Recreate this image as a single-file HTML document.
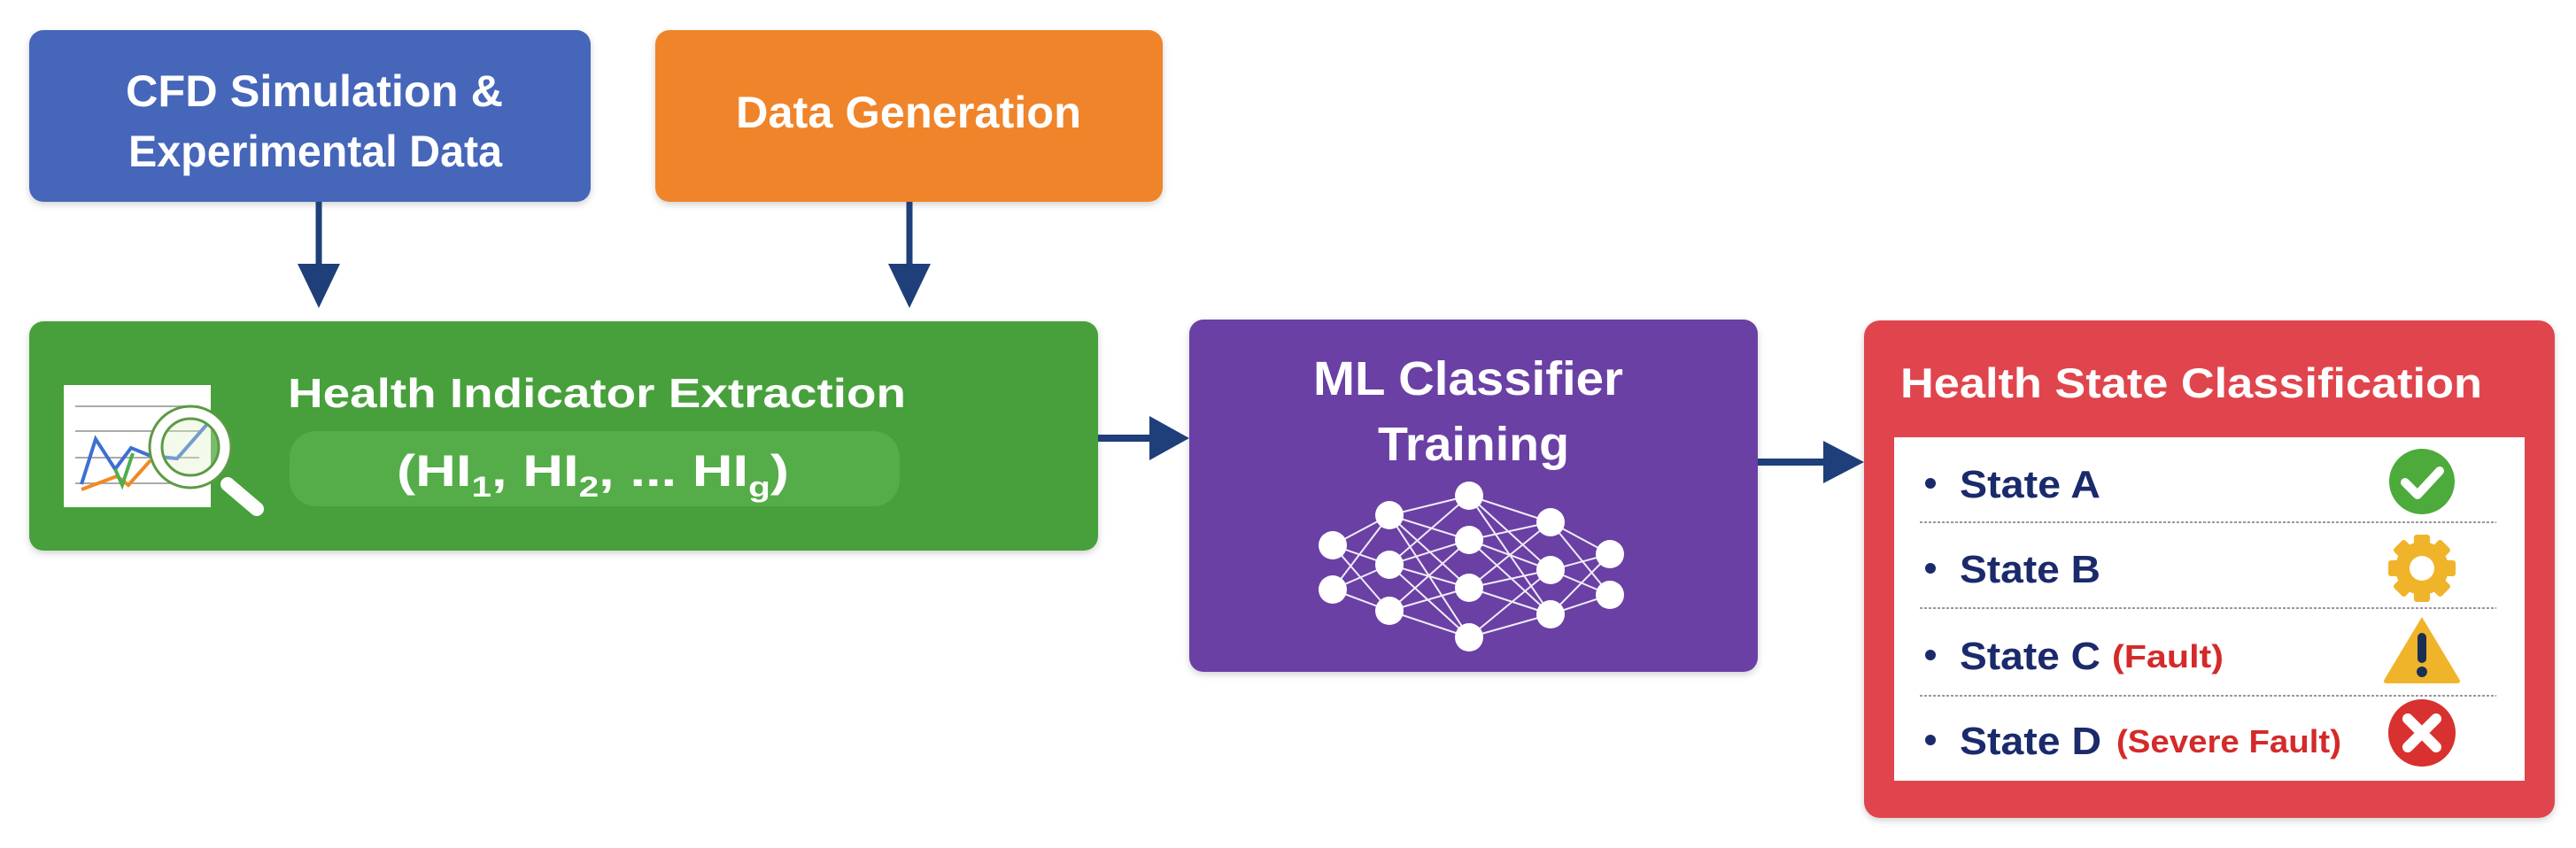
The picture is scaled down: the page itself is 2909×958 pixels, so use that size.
<!DOCTYPE html>
<html><head><meta charset="utf-8"><style>
html,body{margin:0;padding:0;background:#fff;}
svg{display:block;}
text{font-family:"Liberation Sans",sans-serif;font-weight:bold;}
</style></head><body>
<svg width="2909" height="958" viewBox="0 0 2909 958" xmlns="http://www.w3.org/2000/svg">
<defs>
<filter id="sh" x="-5%" y="-5%" width="110%" height="115%"><feDropShadow dx="0" dy="3" stdDeviation="4" flood-color="#000" flood-opacity="0.18"/></filter>
</defs>
<!-- Blue box -->
<rect x="33" y="34" width="634" height="194" rx="16" fill="#4566b9" filter="url(#sh)"/>
<text x="355" y="120" fill="#fff" font-size="50" text-anchor="middle" textLength="426" lengthAdjust="spacingAndGlyphs">CFD Simulation &amp;</text>
<text x="356" y="188" fill="#fff" font-size="50" text-anchor="middle" textLength="422" lengthAdjust="spacingAndGlyphs">Experimental Data</text>
<!-- Orange box -->
<rect x="740" y="34" width="573" height="194" rx="16" fill="#f0842b" filter="url(#sh)"/>
<text x="1026" y="144" fill="#fff" font-size="50" text-anchor="middle" textLength="390" lengthAdjust="spacingAndGlyphs">Data Generation</text>
<!-- down arrows -->
<g fill="#1f3f7a" stroke="#1f3f7a">
<line x1="360" y1="228" x2="360" y2="305" stroke-width="7"/>
<polygon points="336,298 384,298 360,348" stroke="none"/>
<line x1="1027" y1="228" x2="1027" y2="305" stroke-width="7"/>
<polygon points="1003,298 1051,298 1027,348" stroke="none"/>
</g>
<!-- Green box -->
<rect x="33" y="363" width="1207" height="259" rx="16" fill="#47a03b" filter="url(#sh)"/>
<rect x="327" y="487" width="689" height="85" rx="30" fill="#5ab24e" opacity="0.7"/>
<text x="674" y="460" fill="#fff" font-size="46" text-anchor="middle" textLength="698" lengthAdjust="spacingAndGlyphs">Health Indicator Extraction</text>
<text x="448" y="549" fill="#fff" font-size="50" textLength="443" lengthAdjust="spacingAndGlyphs">(HI<tspan font-size="32" dy="12">1</tspan><tspan dy="-12">, HI</tspan><tspan font-size="32" dy="12">2</tspan><tspan dy="-12">, ... HI</tspan><tspan font-size="32" dy="12">g</tspan><tspan dy="-12">)</tspan></text>
<!-- chart icon -->
<rect x="72" y="435" width="166" height="138" fill="#fff"/>
<g stroke="#aaa" stroke-width="2"><line x1="85" y1="459" x2="225" y2="459"/><line x1="85" y1="487" x2="225" y2="487"/><line x1="85" y1="517" x2="225" y2="517"/><line x1="85" y1="546" x2="225" y2="546"/></g>
<polyline points="92,547 108,496 130,530 148,506 170,515 200,518 235,478" fill="none" stroke="#3f6fd0" stroke-width="4"/>
<polyline points="92,553 132,538 145,548 170,520" fill="none" stroke="#f08a24" stroke-width="4"/>
<polyline points="130,530 138,548 150,512" fill="none" stroke="#4cb04a" stroke-width="4"/>
<circle cx="215" cy="505" r="39" fill="rgba(220,240,200,0.35)" stroke="#fff" stroke-width="12"/>
<circle cx="215" cy="505" r="46" fill="none" stroke="#5c9a44" stroke-width="3"/>
<circle cx="215" cy="505" r="32" fill="none" stroke="#5c9a44" stroke-width="3"/>
<line x1="257" y1="547" x2="290" y2="575" stroke="#fff" stroke-width="16" stroke-linecap="round"/>
<!-- arrow green->purple -->
<line x1="1240" y1="495" x2="1305" y2="495" stroke="#1f3f7a" stroke-width="8"/>
<polygon points="1298,470 1343,495 1298,520" fill="#1f3f7a"/>
<!-- Purple box -->
<rect x="1343" y="361" width="642" height="398" rx="16" fill="#6a40a5" filter="url(#sh)"/>
<text x="1658" y="446" fill="#fff" font-size="54" text-anchor="middle" textLength="350" lengthAdjust="spacingAndGlyphs">ML Classifier</text>
<text x="1664" y="520" fill="#fff" font-size="54" text-anchor="middle" textLength="216" lengthAdjust="spacingAndGlyphs">Training</text>
<g stroke="#fff" stroke-width="2" opacity="0.9">
<path d="M1505,616 L1569,582 M1505,616 L1569,638 M1505,616 L1569,690 M1505,666 L1569,582 M1505,666 L1569,638 M1505,666 L1569,690
M1569,582 L1659,560 M1569,582 L1659,610 M1569,582 L1659,664 M1569,582 L1659,720
M1569,638 L1659,560 M1569,638 L1659,610 M1569,638 L1659,664 M1569,638 L1659,720
M1569,690 L1659,610 M1569,690 L1659,664 M1569,690 L1659,720
M1659,560 L1751,590 M1659,560 L1751,644 M1659,560 L1751,694
M1659,610 L1751,590 M1659,610 L1751,644 M1659,610 L1751,694
M1659,664 L1751,590 M1659,664 L1751,644 M1659,664 L1751,694
M1659,720 L1751,644 M1659,720 L1751,694
M1751,590 L1818,626 M1751,590 L1818,672 M1751,644 L1818,626 M1751,644 L1818,672 M1751,694 L1818,626 M1751,694 L1818,672"/>
</g>
<g fill="#fff">
<circle cx="1505" cy="616" r="16"/><circle cx="1505" cy="666" r="16"/>
<circle cx="1569" cy="582" r="16"/><circle cx="1569" cy="638" r="16"/><circle cx="1569" cy="690" r="16"/>
<circle cx="1659" cy="560" r="16"/><circle cx="1659" cy="610" r="16"/><circle cx="1659" cy="664" r="16"/><circle cx="1659" cy="720" r="16"/>
<circle cx="1751" cy="590" r="16"/><circle cx="1751" cy="644" r="16"/><circle cx="1751" cy="694" r="16"/>
<circle cx="1818" cy="626" r="16"/><circle cx="1818" cy="672" r="16"/>
</g>
<!-- arrow purple->red -->
<line x1="1985" y1="522" x2="2065" y2="522" stroke="#1f3f7a" stroke-width="8"/>
<polygon points="2059,498 2105,522 2059,546" fill="#1f3f7a"/>
<!-- Red box -->
<rect x="2105" y="362" width="780" height="562" rx="18" fill="#e0454e" filter="url(#sh)"/>
<text x="2146" y="449" fill="#fff" font-size="47" textLength="657" lengthAdjust="spacingAndGlyphs">Health State Classification</text>
<rect x="2139" y="494" width="712" height="388" fill="#fff"/>
<g stroke="#999" stroke-width="2" stroke-dasharray="3,2">
<line x1="2168" y1="590" x2="2819" y2="590"/><line x1="2168" y1="687" x2="2819" y2="687"/><line x1="2168" y1="786" x2="2819" y2="786"/>
</g>
<g fill="#1b2a6b" font-size="44">
<circle cx="2180" cy="546" r="6"/><text x="2213" y="562" textLength="159" lengthAdjust="spacingAndGlyphs">State A</text>
<circle cx="2180" cy="642" r="6"/><text x="2213" y="658" textLength="159" lengthAdjust="spacingAndGlyphs">State B</text>
<circle cx="2180" cy="740" r="6"/><text x="2213" y="756" textLength="159" lengthAdjust="spacingAndGlyphs">State C</text>
<circle cx="2180" cy="836" r="6"/><text x="2213" y="852" textLength="160" lengthAdjust="spacingAndGlyphs">State D</text>
</g>
<text x="2385" y="754" fill="#d42a2a" font-size="36" textLength="126" lengthAdjust="spacingAndGlyphs">(Fault)</text>
<text x="2390" y="850" fill="#d42a2a" font-size="36" textLength="254" lengthAdjust="spacingAndGlyphs">(Severe Fault)</text>
<!-- icons -->
<circle cx="2735" cy="544" r="37" fill="#4cab3a"/>
<polyline points="2716,545 2730,559 2755,532" fill="none" stroke="#fff" stroke-width="10" stroke-linecap="round" stroke-linejoin="round"/>
<g transform="translate(2735,642)">
<g fill="#f0b42a">
<rect x="-9" y="-38" width="18" height="76" rx="3"/>
<rect x="-9" y="-38" width="18" height="76" rx="3" transform="rotate(45)"/>
<rect x="-9" y="-38" width="18" height="76" rx="3" transform="rotate(90)"/>
<rect x="-9" y="-38" width="18" height="76" rx="3" transform="rotate(135)"/>
<circle r="30"/>
</g>
<circle r="14" fill="#fff"/>
</g>
<path d="M2735,697 L2777,767 Q2780,772 2774,772 L2696,772 Q2690,772 2693,767 Z" fill="#f0b42a"/>
<rect x="2730" y="715" width="10" height="34" rx="5" fill="#1b2f55"/>
<circle cx="2735" cy="759" r="6" fill="#1b2f55"/>
<circle cx="2735" cy="828" r="38" fill="#d8312f"/>
<g stroke="#fff" stroke-width="12" stroke-linecap="round"><line x1="2719" y1="812" x2="2751" y2="844"/><line x1="2751" y1="812" x2="2719" y2="844"/></g>
</svg>
</body></html>
